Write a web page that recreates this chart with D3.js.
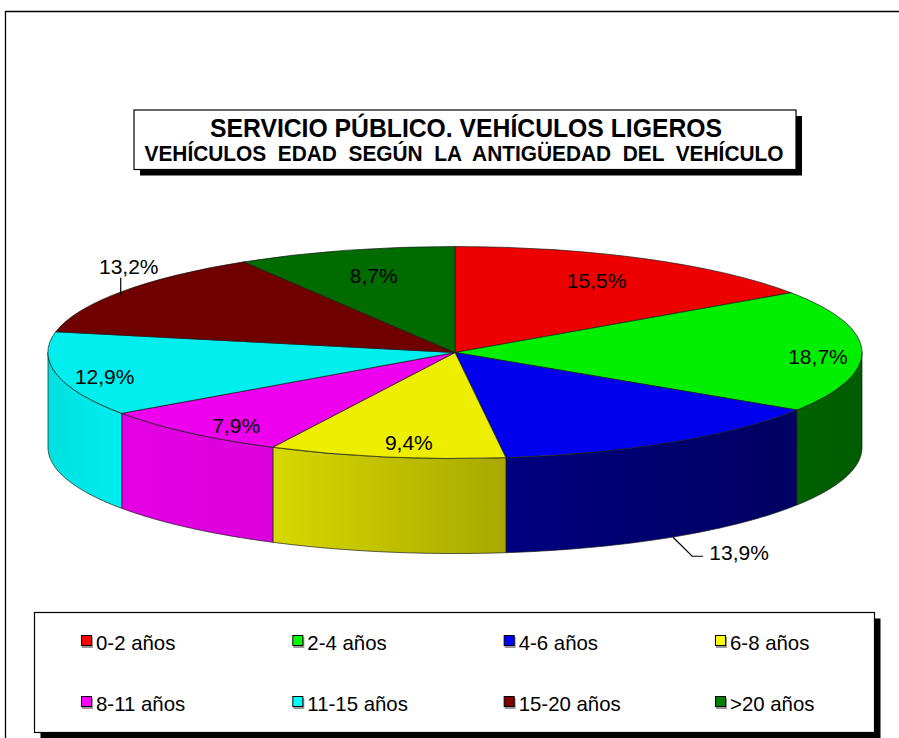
<!DOCTYPE html>
<html>
<head>
<meta charset="utf-8">
<script src="https://cdn.jsdelivr.net/npm/d3@7/dist/d3.min.js"></script>
<style>
html,body{margin:0;padding:0;background:#fff;overflow:hidden}
svg{display:block}
text{font-family:"Liberation Sans",Arial,sans-serif;fill:#000}
</style>
</head>
<body>
<svg id="chart" width="899" height="738"></svg>
<script>
const categories = ["0-2 años","2-4 años","4-6 años","6-8 años","8-11 años","11-15 años","15-20 años",">20 años"];
const shares = [15.5,18.7,13.9,9.4,7.9,12.9,13.2,8.7];
const shareLabels = ["15,5%","18,7%","13,9%","9,4%","7,9%","12,9%","13,2%","8,7%"];
const titleLines = ["SERVICIO PÚBLICO. VEHÍCULOS LIGEROS","VEHÍCULOS  EDAD  SEGÚN  LA  ANTIGÜEDAD  DEL  VEHÍCULO"];

const legendColors = ["#ff0000","#00ff00","#0000ff","#ffff00","#ff00ff","#00ffff","#800000","#008000"];
const topColors = ["#ee0000","#00ee00","#0000ee","#eeee00","#ee00ee","#00eeee","#700000","#006c00"];
const wallFrom = {1:"#006200",2:"#000080",3:"#d8d800",4:"#e400e4",5:"#00e0e0"};
const wallTo = {1:"#005c00",2:"#000060",3:"#a8a800",4:"#dc00dc",5:"#00eeee"};
const labelNudge = [[-48.5,22],[-44,5.5],[67.5,110.5],[22.4,-14],[47,-7.3],[48,2.5],[7,-24.8],[28.4,25.7]];

const cx = 455, cy = 352.5, rx = 407, ry = 106, depth = 95;
const svg = d3.select("#chart");
const defs = svg.append("defs");

const rimX = a => cx + rx * Math.sin(a);
const rimY = a => cy - ry * Math.cos(a);

// Frame: only the top and left rules fall inside the picture
svg.append("path").attr("d","M5.5 738V11.5H899").attr("fill","none").attr("stroke","#000").attr("stroke-width",1.3);

function shadowBox(x,y,w,h,s){
  svg.append("rect").attr("x",x+s).attr("y",y+s).attr("width",w).attr("height",h).attr("fill","#000");
  svg.append("rect").attr("x",x).attr("y",y).attr("width",w).attr("height",h).attr("fill","#fff").attr("stroke","#000").attr("stroke-width",1.2);
}

// Title
shadowBox(134,110,662,59.5,6);
const t = svg.append("g");
t.append("text").attr("x",466).attr("y",136.7).attr("text-anchor","middle").attr("font-weight","bold").attr("font-size",25)
  .attr("textLength",512).attr("lengthAdjust","spacingAndGlyphs").text(titleLines[0]);
t.append("text").attr("x",464).attr("y",161).attr("text-anchor","middle").attr("font-weight","bold").attr("font-size",22)
  .style("white-space","pre").attr("textLength",639).attr("lengthAdjust","spacingAndGlyphs").text(titleLines[1]);

// Pie
const pie = d3.pie().sort(null).value(d=>d).startAngle(0).endAngle(2*Math.PI);
const slices = pie(shares);
const line = d3.line();
const wallLayer = svg.append("g");
slices.forEach((s,i)=>{
  const a0 = Math.max(s.startAngle, Math.PI/2), a1 = Math.min(s.endAngle, 3*Math.PI/2);
  if(a1 <= a0) return;
  const id = "wall"+i;
  const g = defs.append("linearGradient").attr("id",id);
  g.append("stop").attr("offset","0%").attr("stop-color", wallFrom[i] );
  g.append("stop").attr("offset","100%").attr("stop-color", wallTo[i] );
  const ang = d3.range(0,61).map(k=>a0+(a1-a0)*k/60);
  const pts = ang.map(a=>[rimX(a),rimY(a)]).concat(ang.slice().reverse().map(a=>[rimX(a),rimY(a)+depth]));
  wallLayer.append("path").attr("d",line(pts)+"Z").attr("fill",`url(#${id})`).attr("stroke","#1a1a1a").attr("stroke-width",0.7);
});
const arc = d3.arc().innerRadius(0).outerRadius(1);
svg.append("g").attr("transform",`translate(${cx},${cy}) scale(${rx},${ry})`)
  .selectAll("path").data(slices).join("path")
  .attr("d",arc).attr("fill",(d,i)=>topColors[i])
  .attr("stroke","#1a1a1a").attr("stroke-width",0.7).attr("vector-effect","non-scaling-stroke");

// Labels and leaders
slices.forEach((s,i)=>{
  const m = (s.startAngle+s.endAngle)/2;
  const x = rimX(m), y = rimY(m);
  if(i===2){
    const y0 = y+depth;
    svg.append("path").attr("d",line([[x+1.5,y0],[x+20.5,y0+19],[x+31.5,y0+19]])).attr("fill","none").attr("stroke","#000").attr("stroke-width",1.2);
  }
  if(i===6){
    svg.append("path").attr("d",line([[x-1,y+4],[x-1,y-14]])).attr("fill","none").attr("stroke","#000").attr("stroke-width",1.2);
  }
  svg.append("text").attr("x",x+labelNudge[i][0]).attr("y",y+labelNudge[i][1]).attr("dy","0.35em")
    .attr("text-anchor","middle").attr("font-size",21).text(shareLabels[i]);
});

// Legend
shadowBox(34.5,612.5,840,120,6);
const col = d3.scalePoint().domain(d3.range(4)).range([81,715]);
const row = d3.scalePoint().domain(d3.range(2)).range([641,702]);
categories.forEach((c,i)=>{
  const x = col(i%4), y = row(Math.floor(i/4));
  svg.append("rect").attr("x",x+1).attr("y",y-4).attr("width",11).attr("height",11).attr("fill","#999");
  svg.append("rect").attr("x",x+.5).attr("y",y-5.5).attr("width",10).attr("height",10).attr("fill",legendColors[i]).attr("stroke","#000").attr("stroke-width",1);
  svg.append("text").attr("x",x+15).attr("y",y+2).attr("dy","0.35em").attr("font-size",20.4).text(c);
});
</script>
</body>
</html>
